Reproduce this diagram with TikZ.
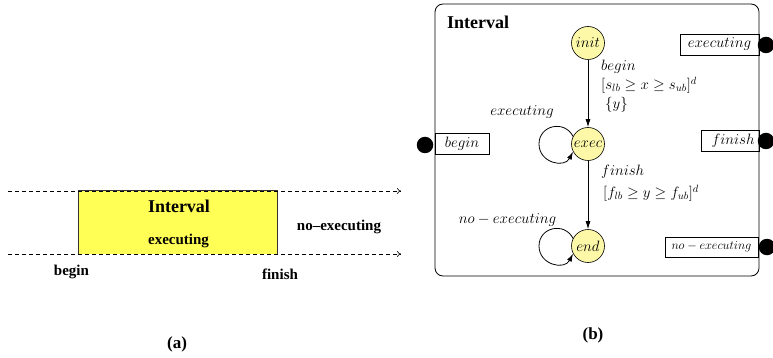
\RequirePackage{fix-cm}
\documentclass[tikz,border=0pt]{standalone}
\usepackage[no-math]{fontspec}
\newfontfamily\tbf{Liberation Serif}[Ligatures=TeX]
\usetikzlibrary{arrows.meta,calc}
\definecolor{rectyellow}{RGB}{255,255,85}
\definecolor{statefill}{RGB}{252,248,168}
\begin{document}
\begin{tikzpicture}[x=1pt,y=-1pt,
  lbl/.style={font=\fontsize{15}{18}\selectfont, inner sep=0pt},
  bflbl/.style={font=\tbf\bfseries\fontsize{15}{18}\selectfont, inner sep=0pt},
  titlelbl/.style={font=\tbf\bfseries\fontsize{18}{21}\selectfont, inner sep=0pt},
  state/.style={circle, draw, line width=0.6pt, fill=statefill, inner sep=0.5pt, minimum size=33pt, font=\fontsize{15}{18}\selectfont},
  port/.style={draw, rectangle, line width=0.7pt, minimum height=21pt, inner sep=0pt, font=\fontsize{15}{18}\selectfont},
  dot/.style={circle, fill=black, inner sep=0pt, minimum size=16.5pt},
  tr/.style={-{Latex[length=8pt,width=5pt]}, line width=0.8pt},
  dashline/.style={dash pattern=on 4pt off 3pt, line width=0.6pt, -{To[length=4pt,width=6pt]}}
]
\useasboundingbox (0,0) rectangle (773,358);

% ---------- panel (a) ----------
\node[fill=rectyellow, minimum width=199pt, minimum height=63pt, inner sep=0pt] (ivrect) at (177.5,222.5) {};
\draw[line width=0.6pt, black!80] (ivrect.south west) -- (ivrect.north west) -- (ivrect.north east) -- (ivrect.south east);
\coordinate (ts) at (8,191);
\coordinate (te) at (401,191);
\coordinate (bs) at (8,254);
\coordinate (be) at (401,254);
\draw[dashline] (ts) -- (te);
\draw[dashline] (bs) -- (be);

\node[titlelbl] (ivtitle) at (179,206) {Interval};
\node[bflbl] (ivexec) at (178.5,241) {executing};
\node[bflbl] (noexecA) at (339,227) {no–executing};
\node[bflbl] (beginA) at (71.5,272) {begin};
\node[bflbl] (finishA) at (280,274) {finish};
\node[font=\tbf\bfseries\fontsize{17}{20}\selectfont, inner sep=0pt] (capa) at (177,344) {(a)};

% ---------- panel (b) ----------
\node[draw, line width=0.8pt, rounded corners=8pt, minimum width=324pt, minimum height=272pt, inner sep=0pt] (frame) at (597,140) {};
\node[titlelbl, anchor=west] (ivtitleB) at (447,22) {Interval};

\node[state] (init) at (588,43) {$init$};
\node[state] (exec) at (588,144) {$exec$};
\node[state] (end) at (588,246) {$end$};

\draw[tr] (init) -- (exec);
\draw[tr] (exec) -- (end);
\draw[tr] (exec.153) .. controls +(-8.6,-16.8) and +(0,-18.9) .. ($(exec)+(-49,0)$)
                     .. controls +(0,18.9) and +(-8.6,16.8) .. (exec.207);
\draw[tr] (end.153) .. controls +(-8.6,-16.8) and +(0,-18.9) .. ($(end)+(-49,0)$)
                    .. controls +(0,18.9) and +(-8.6,16.8) .. (end.207);

\node[lbl, anchor=west] (lb1) at (601,67) {$begin$};
\node[lbl, anchor=west] (lb2) at (601,85) {$[s_{lb} \geq x \geq s_{ub}]^d$};
\node[lbl, anchor=west] (lb3) at (605,105) {$\{y\}$};
\node[lbl] (lexec) at (522,112) {$executing$};
\node[lbl, anchor=west] (lf1) at (601,172) {$finish$};
\node[lbl, anchor=west] (lf2) at (603,193) {$[f_{lb} \geq y \geq f_{ub}]^d$};
\node[lbl] (lnoexec) at (507.5,220) {$no - executing$};

\node[port, minimum width=54pt] (pbegin) at (462,143.5) {$begin$};
\node[port, minimum width=79pt] (pexec) at (719.5,44.5) {$executing$};
\node[port, minimum width=58pt] (pfinish) at (730,141) {\hspace*{6pt}$finish$};
\node[port, minimum width=93pt, minimum height=20pt, font=\fontsize{12.3}{14}\selectfont] (pnoexec) at (711.5,247) {$no - executing$};

\node[dot] (dbegin) at (425,145) {};
\node[dot] (dexec) at (766,45) {};
\node[dot] (dfinish) at (766,141) {};
\node[dot] (dnoexec) at (767,247) {};

\node[font=\tbf\bfseries\fontsize{17}{20}\selectfont, inner sep=0pt] (capb) at (593,335) {(b)};
\end{tikzpicture}
\end{document}
